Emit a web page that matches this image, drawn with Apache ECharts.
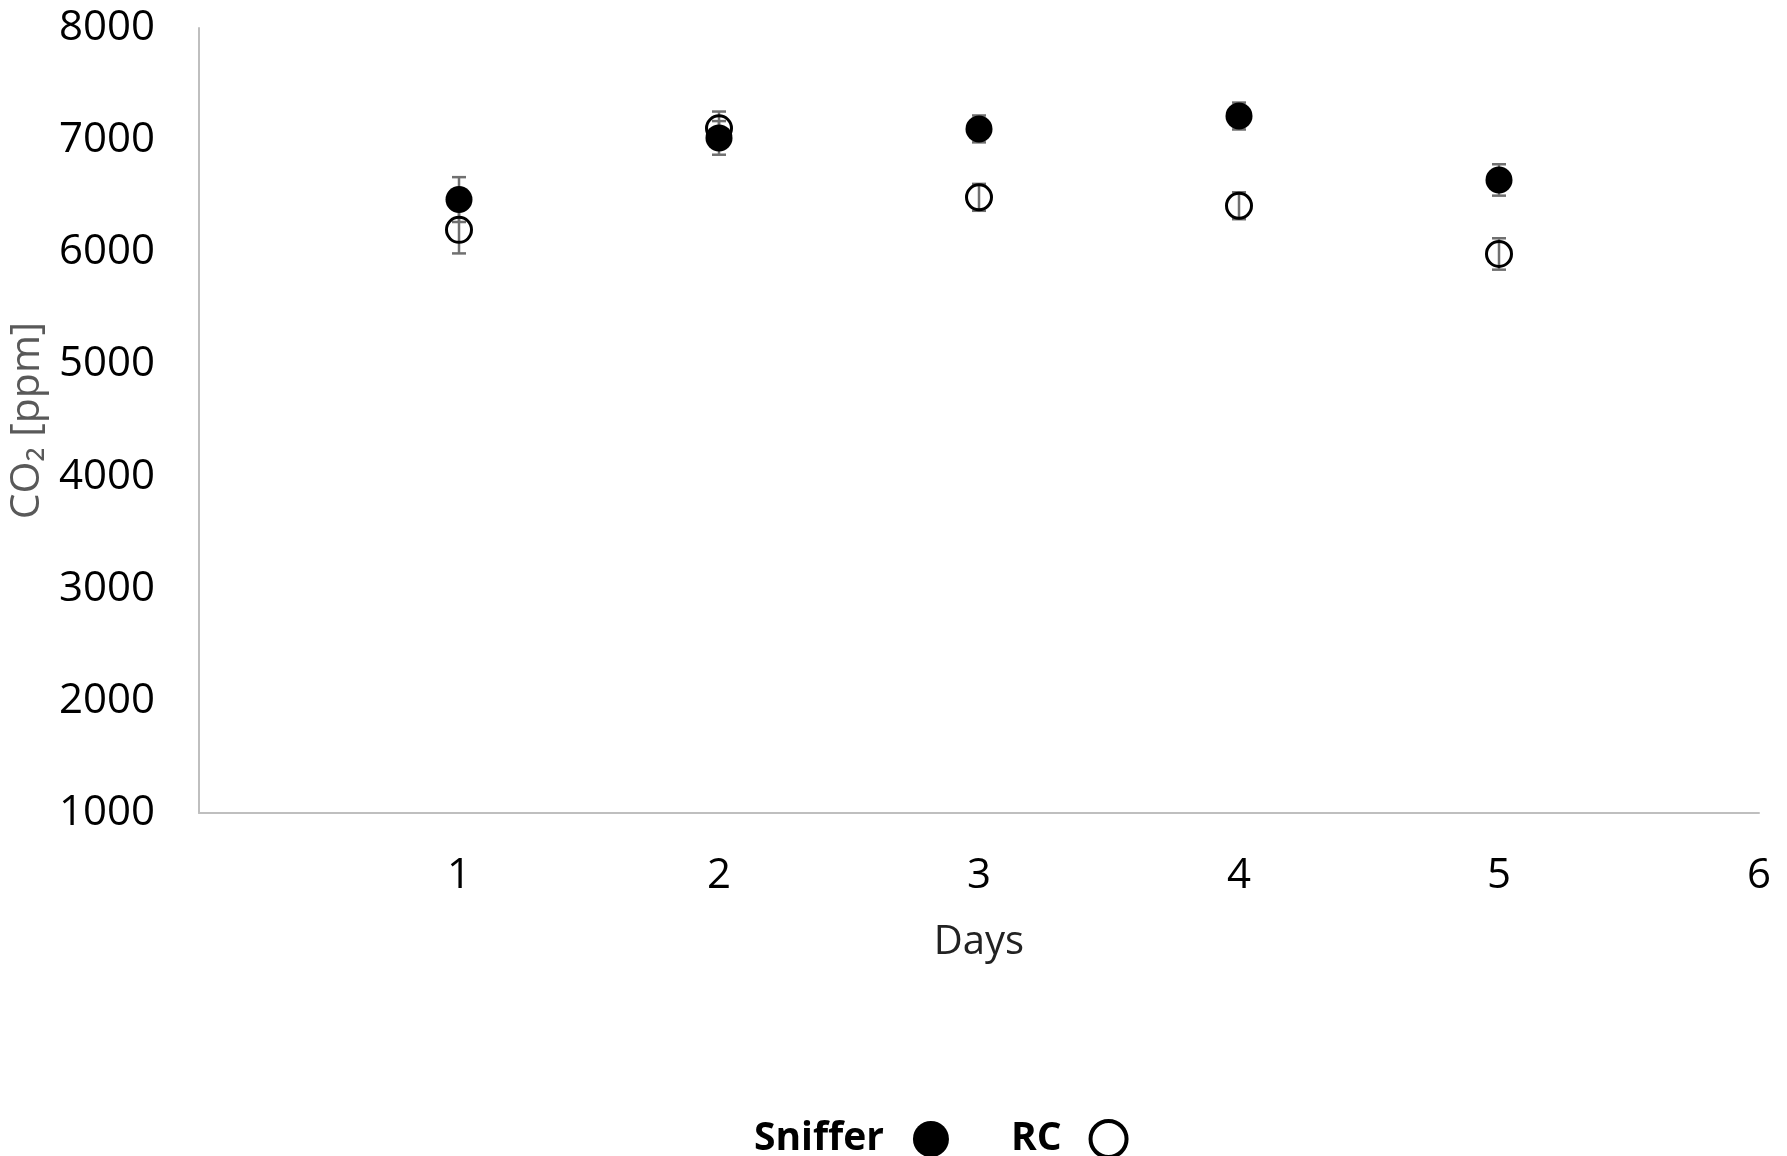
<!DOCTYPE html>
<html>
<head>
<meta charset="utf-8">
<script src="https://cdn.jsdelivr.net/npm/echarts@6/dist/echarts.min.js"></script>
<style>
    html, body { margin: 0; padding: 0; background: #fff; }
    #chart { width: 1787px; height: 1156px; }
</style>
</head>
<body>
<div id="chart"></div>
<script>
    // values
    var days = [1, 2, 3, 4, 5];
    var snifferMean = [6470, 7020, 7100, 7215, 6645];
    var snifferErr = [200, 150, 120, 120, 140];
    var rcMean = [6200, 7105, 6490, 6415, 5985];
    var rcErr = [210, 150, 120, 120, 140];

    (function(){
        var myChart = echarts.init(document.getElementById("chart"));
        var font = "'Open Sans', 'Noto Sans', sans-serif";

        function points(mean){
            return days.map(function(d, i){ return [d, mean[i]]; });
        }
        function bars(mean, err){
            return days.map(function(d, i){ return [d, mean[i] - err[i], mean[i] + err[i]]; });
        }

        // error bar: vertical line with caps
        function renderErr(params, api){
            var x = api.value(0);
            var top = api.coord([x, api.value(2)]);
            var bot = api.coord([x, api.value(1)]);
            var half = 7;
            var style = { stroke: '#707070', lineWidth: 2.5 };
            return {
                type: 'group',
                children: [
                    { type: 'line', shape: { x1: top[0], y1: top[1], x2: bot[0], y2: bot[1] }, style: style },
                    { type: 'line', shape: { x1: top[0] - half, y1: top[1], x2: top[0] + half, y2: top[1] }, style: style },
                    { type: 'line', shape: { x1: bot[0] - half, y1: bot[1], x2: bot[0] + half, y2: bot[1] }, style: style }
                ]
            };
        }

        var option = {
            backgroundColor: '#fff',
            animation: false,
            grid: { left: 199, right: 28, top: 28, bottom: 343, outerBoundsMode: 'none' },
            legend: {
                data: [
                    { name: 'Sniffer' },
                    { name: 'RC', itemStyle: { color: '#fff', borderColor: '#000', borderWidth: 4 } }
                ],
                left: 749,
                top: 1114,
                align: 'right',
                itemGap: 62,
                itemWidth: 36,
                itemHeight: 36,
                textStyle: { fontFamily: font, fontSize: 39, fontWeight: 'bold', color: '#000', padding: [0, 24, 0, 0] }
            },
            xAxis: {
                type: 'value',
                min: 0,
                max: 6,
                interval: 1,
                name: 'Days',
                nameLocation: 'middle',
                nameGap: 110,
                nameTextStyle: { fontFamily: font, fontSize: 40, color: '#222' },
                axisLine: { show: true, lineStyle: { color: '#bfbfbf', width: 2 } },
                axisTick: { show: false },
                splitLine: { show: false },
                axisLabel: {
                    showMinLabel: false,
                    margin: 42,
                    fontFamily: font, fontSize: 42, color: '#000'
                }
            },
            yAxis: {
                type: 'value',
                min: 1000,
                max: 8000,
                interval: 1000,
                name: 'CO₂ [ppm]',
                nameLocation: 'middle',
                nameGap: 138,
                nameTextStyle: { fontFamily: font, fontSize: 41, color: '#595959' },
                axisLine: { show: true, lineStyle: { color: '#bfbfbf', width: 2 } },
                axisTick: { show: false },
                splitLine: { show: false },
                axisLabel: {
                    margin: 44,
                    fontFamily: font, fontSize: 42, color: '#000',
                    formatter: function(v){ return String(v); }
                }
            },
            series: [
                {
                    name: 'Sniffer err',
                    type: 'custom',
                    renderItem: renderErr,
                    data: bars(snifferMean, snifferErr),
                    z: 2
                },
                {
                    name: 'RC err',
                    type: 'custom',
                    renderItem: renderErr,
                    data: bars(rcMean, rcErr),
                    z: 2
                },
                {
                    name: 'RC',
                    type: 'scatter',
                    symbol: 'circle',
                    symbolSize: 25,
                    data: points(rcMean),
                    itemStyle: { color: 'rgba(255,255,255,0)', borderColor: '#000', borderWidth: 3, opacity: 1 },
                    z: 3
                },
                {
                    name: 'Sniffer',
                    type: 'scatter',
                    symbol: 'circle',
                    symbolSize: 27,
                    data: points(snifferMean),
                    itemStyle: { color: '#000', opacity: 1 },
                    z: 4
                }
            ]
        };

        myChart.setOption(option);
    })();
</script>
</body>
</html>
